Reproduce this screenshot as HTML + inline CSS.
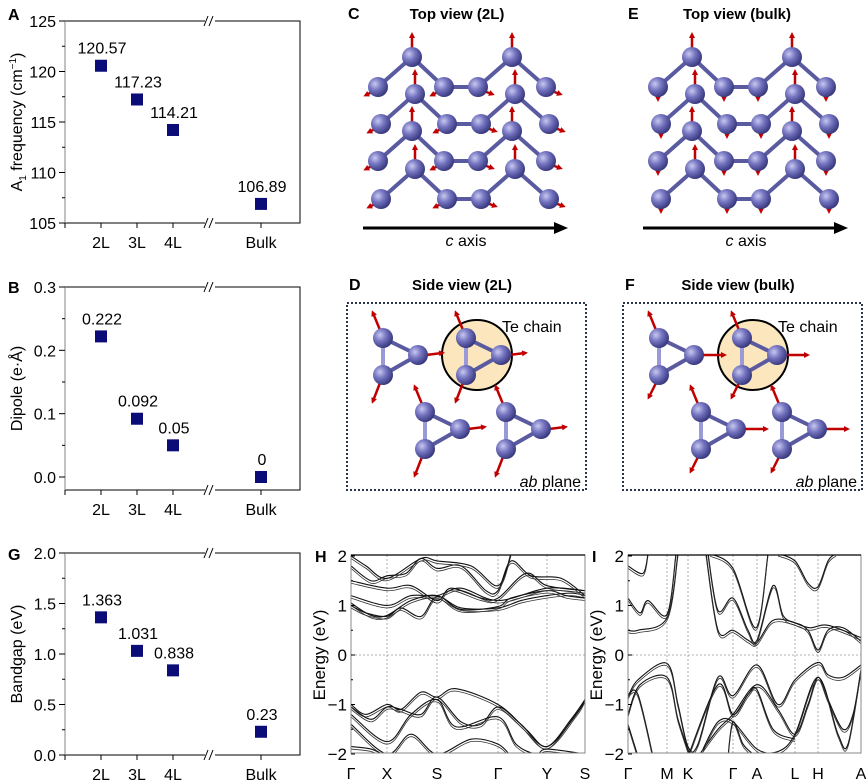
<!DOCTYPE html>
<html><head><meta charset="utf-8">
<style>
html,body{margin:0;padding:0;background:#fff;}
svg{display:block;font-family:"Liberation Sans",Arial,sans-serif;}
</style></head>
<body>
<svg id="fig" width="867" height="783" viewBox="0 0 867 783" xmlns="http://www.w3.org/2000/svg">
<defs>
<radialGradient id="atomg" cx="0.35" cy="0.35" r="0.7">
<stop offset="0" stop-color="#c8c8f0"/><stop offset="0.45" stop-color="#7474c0"/><stop offset="1" stop-color="#34347a"/>
</radialGradient>
<marker id="arr" markerWidth="6" markerHeight="6" refX="3" refY="3" orient="auto" markerUnits="userSpaceOnUse"><path d="M0,0 L6,3 L0,6 z" fill="#c00000"/></marker>
<marker id="bigarr" markerWidth="14" markerHeight="12" refX="2" refY="6" orient="auto" markerUnits="userSpaceOnUse"><path d="M0,0 L14,6 L0,12 z" fill="#000"/></marker>
</defs>
<g id="scatter"></g>
<g id="structs"></g>
<g id="bands"></g>
</svg>
<script>
const NS="http://www.w3.org/2000/svg";
function mk(tag,attrs,parent,txt){const e=document.createElementNS(NS,tag);for(const k in attrs)e.setAttribute(k,attrs[k]);if(txt!==undefined)e.textContent=txt;parent.appendChild(e);return e;}

/* ---------- scatter data ---------- */
const categories=["2L","3L","4L","Bulk"];
const freqValues=[120.57,117.23,114.21,106.89];
const freqLabels=["120.57","117.23","114.21","106.89"];
const dipoleValues=[0.222,0.092,0.05,0];
const dipoleLabels=["0.222","0.092","0.05","0"];
const gapValues=[1.363,1.031,0.838,0.23];
const gapLabels=["1.363","1.031","0.838","0.23"];
const freqTicks=[105,110,115,120,125];
const freqTickLabels=["105","110","115","120","125"];
const dipoleTicks=[0,0.1,0.2,0.3];
const dipoleTickLabels=["0.0","0.1","0.2","0.3"];
const gapTicks=[0,0.5,1,1.5,2];
const gapTickLabels=["0.0","0.5","1.0","1.5","2.0"];

function xCat(i){return i<3?101+36*i:261;}
function scatterPanel(cfg){
  const root=document.getElementById('scatter');
  const g=mk('g',{},root);
  
  
  const L=65,R=300,T=cfg.top,B=cfg.bottom;
  const y=v=>cfg.y0+(v-cfg.vmin)/(cfg.vmax-cfg.vmin)*(cfg.y1-cfg.y0);
  const box=mk('path',{d:`M${L},${T}H205M215,${T}H${R}V${B}H215M205,${B}H${L}V${T}`,fill:'none',stroke:'#000','stroke-width':1},g);
  
  mk('path',{d:`M${L},${T}V${B}`,stroke:'#999','stroke-width':1.2},g);
  [T,B].forEach(yy=>{const b=mk('path',{d:`M204,${yy+5}L208,${yy-5}M209,${yy+5}L213,${yy-5}`,stroke:'#000','stroke-width':1,fill:'none'},g);
    });
  cfg.ticks.forEach((t,i)=>{const yy=y(t);
    mk('line',{x1:L-6,x2:L,y1:yy,y2:yy,stroke:'#000'},g);
    const tl=mk('text',{x:L-9,y:yy+6,'text-anchor':'end','font-size':16},g,cfg.tickLabels[i]);
    
    if(i<cfg.ticks.length-1){const ym=y((t+cfg.ticks[i+1])/2);mk('line',{x1:L-3,x2:L,y1:ym,y2:ym,stroke:'#000'},g);}
  });
  categories.forEach((c,i)=>{const xx=xCat(i);
    mk('line',{x1:xx,x2:xx,y1:B,y2:B+5,stroke:'#000'},g);
    const tl=mk('text',{x:xx,y:B+25,'text-anchor':'middle','font-size':16},g,c);
    
  });
  mk('line',{x1:L,x2:L,y1:B,y2:B+5,stroke:'#000'},g);
  cfg.values.forEach((v,i)=>{const xx=xCat(i),yy=y(v);
    const r=mk('rect',{x:xx-6,y:yy-6,width:12,height:12,fill:'#0c0c78'},g);
    
    const tl=mk('text',{x:xx+1,y:yy-12,'text-anchor':'middle','font-size':16},g,cfg.labels[i]);
    
  });
  const yt=mk('text',{transform:`translate(${cfg.axisX},${(T+B)/2}) rotate(-90)`,'text-anchor':'middle','font-size':16},g);
  
  yt.innerHTML=cfg.title;
  const pl=mk('text',{x:8,y:cfg.letterY,'font-size':16,'font-weight':'bold'},g,cfg.letter);
  
}
scatterPanel({name:'panel-a-frequency',top:21,bottom:223,y0:223,y1:21,vmin:105,vmax:125,ticks:freqTicks,tickLabels:freqTickLabels,values:freqValues,labels:freqLabels,
  title:'A<tspan font-size="10" dy="4">1</tspan><tspan dy="-4"> frequency (cm</tspan><tspan font-size="10" dy="-6">−1</tspan><tspan dy="6">)</tspan>',axisX:22,letter:'A',letterY:20});
scatterPanel({name:'panel-b-dipole',top:287,bottom:490,y0:477,y1:287,vmin:0,vmax:0.3,ticks:dipoleTicks,tickLabels:dipoleTickLabels,values:dipoleValues,labels:dipoleLabels,
  title:'Dipole (e·Å)',axisX:22,letter:'B',letterY:293});
scatterPanel({name:'panel-g-bandgap',top:553,bottom:755,y0:755,y1:553,vmin:0,vmax:2,ticks:gapTicks,tickLabels:gapTickLabels,values:gapValues,labels:gapLabels,
  title:'Bandgap (eV)',axisX:22,letter:'G',letterY:560});

/* ---------- structures ---------- */
const S=document.getElementById('structs');
function atom(g,x,y,r){mk('circle',{cx:x,cy:y,r:r||10,fill:'url(#atomg)'},g);}
function bond(g,x1,y1,x2,y2){mk('line',{x1,y1,x2,y2,stroke:'#5a5aa0','stroke-width':4,'stroke-linecap':'round'},g);}
function arrow(g,x1,y1,x2,y2){mk('line',{x1,y1,x2,y2,stroke:'#c00000','stroke-width':2.5,'marker-end':'url(#arr)'},g);}
function topView(ox,bulk,name,letter,title){
  const g=mk('g',{},S);
  const t=mk('text',{x:ox+79,y:19,'text-anchor':'middle','font-size':15,'font-weight':'bold'},g,title);
  
  const l=mk('text',{x:ox-30,y:19,'font-size':16,'font-weight':'bold'},g,letter);
  
  const pts=[[0,30],[34,0],[66,30],[100,30],[134,0],[168,30]];
  [87,124,161,199].forEach((ly,ri)=>{
    const dx=(ri%2)?3:0;
    const P=pts.map(p=>[ox+p[0]+dx,ly-30+p[1]]);
    for(let i=0;i<5;i++)bond(g,P[i][0],P[i][1],P[i+1][0],P[i+1][1]);
    [1,4].forEach(i=>arrow(g,P[i][0],P[i][1]-8,P[i][0],P[i][1]-22));
    P.forEach((p,i)=>{ if(i!==1&&i!==4){ if(bulk) arrow(g,p[0],p[1]+4,p[0],p[1]+12);
      else arrow(g,p[0],p[1]+2,p[0]+(i<3?-12:14),p[1]+(i<3?8:7)); } });
    P.forEach(p=>atom(g,p[0],p[1]));
  });
  const ax=mk('line',{x1:ox-15,y1:228,x2:ox+178,y2:228,stroke:'#000','stroke-width':3,'marker-end':'url(#bigarr)'},g);
  
  const at=mk('text',{x:ox+88,y:246,'text-anchor':'middle','font-size':16},g);
  
  at.innerHTML='<tspan font-style="italic">c</tspan> axis';
}
topView(378,false,'panel-c-top-view-2l','C','Top view (2L)');
topView(658,true,'panel-e-top-view-bulk','E','Top view (bulk)');

function sideView(ox,bulk,name,letter,title){
  const g=mk('g',{},S);
  const t=mk('text',{x:ox+115,y:290,'text-anchor':'middle','font-size':15,'font-weight':'bold'},g,title);
  
  const l=mk('text',{x:ox+2,y:290,'font-size':16,'font-weight':'bold'},g,letter);
  
  const b=mk('rect',{x:ox,y:303,width:239,height:187,fill:'none',stroke:'#2a3550','stroke-width':2,'stroke-dasharray':'2,2'},g);
  
  const c=mk('circle',{cx:ox+130,cy:355,r:35,fill:'#fbe6bd',stroke:'#000','stroke-width':2},g);
  
  const tc=mk('text',{x:ox+155,y:332,'font-size':16},g,'Te chain');
  
  const ab=mk('text',{x:ox+234,y:487,'text-anchor':'end','font-size':16},g);
  
  ab.innerHTML='<tspan font-style="italic">ab</tspan> plane';
  [[ox+36,338],[ox+119,338],[ox+78,412],[ox+159,412]].forEach(o=>{
    const A=[o[0],o[1]],Bp=[o[0]+35,o[1]+17],C=[o[0],o[1]+37];
    bond(g,A[0],A[1],Bp[0],Bp[1]);bond(g,Bp[0],Bp[1],C[0],C[1]);
    mk('line',{x1:A[0],y1:A[1],x2:C[0],y2:C[1],stroke:'#9a9ad8','stroke-width':4},g);
    arrow(g,A[0]-3,A[1]-8,A[0]-10,A[1]-25);
    arrow(g,Bp[0]+8,Bp[1],Bp[0]+(bulk?30:24),Bp[1]-(bulk?0:2));
    arrow(g,C[0]-3,C[1]+8,C[0]-10,C[1]+(bulk?22:26));
    atom(g,A[0],A[1]);atom(g,Bp[0],Bp[1]);atom(g,C[0],C[1]);
  });
}
sideView(347,false,'panel-d-side-view-2l','D','Side view (2L)');
sideView(623,true,'panel-f-side-view-bulk','F','Side view (bulk)');

/* ---------- band data ---------- */
const hKpts=[0,36,86,147,196,234];
const hKlabels=["Γ","X","S","Γ","Y","S"];
const hBands=[
[[0,1.0],[15,0.85],[36,0.78],[50,0.95],[70,0.78],[86,1.18],[110,0.95],[147,0.95],[170,1.1],[196,1.2],[220,1.25],[234,1.2]],
[[0,1.05],[20,0.8],[36,0.8],[60,1.1],[86,1.2],[110,0.92],[147,0.98],[160,1.15],[196,1.3],[215,1.2],[234,1.15]],
[[0,1.2],[36,1.0],[60,1.2],[86,1.2],[110,1.35],[147,1.1],[196,1.35],[234,1.3]],
[[0,1.5],[36,1.35],[60,1.4],[86,1.1],[100,1.35],[130,1.15],[147,1.15],[175,1.65],[196,1.4],[234,1.3]],
[[0,1.8],[20,1.5],[36,1.6],[55,1.65],[70,1.95],[86,1.75],[110,1.8],[135,1.3],[147,1.3],[160,1.9],[180,1.6],[210,1.55],[234,1.2]],
[[0,2.0],[15,1.8],[36,1.55],[70,1.95],[86,1.9],[120,1.8],[147,1.4],[160,2.05]],
[[0,-1.0],[15,-1.2],[36,-1.0],[50,-1.1],[70,-0.75],[86,-0.85],[105,-0.68],[147,-1.0],[175,-1.5],[196,-1.85],[220,-1.3],[234,-0.9]],
[[0,-1.05],[20,-1.3],[36,-1.05],[50,-1.1],[70,-1.2],[86,-0.85],[110,-1.35],[130,-1.4],[147,-1.05],[170,-1.4],[196,-1.85],[225,-1.2],[234,-0.9]],
[[0,-1.2],[36,-1.75],[60,-1.2],[86,-0.9],[105,-1.45],[147,-1.25],[165,-1.8],[185,-2.0],[196,-1.9],[234,-2.0]],
[[0,-1.4],[36,-2.0],[60,-1.6],[86,-2.0],[120,-1.7],[147,-1.8],[160,-2.05]],
[[0,-1.85],[20,-1.9],[36,-2.05]]
];
const iKpts=[0,39,60,105,129,167,190,233];
const iKlabels=["Γ","M","K","Γ","A","L","H","A"];
const iBands=[
[[0,0.5],[10,0.5],[39,0.75],[50,2.05]],
[[0,1.15],[12,0.85],[20,1.1],[39,0.82],[48,2.05]],
[[0,1.8],[15,1.65],[20,2.05]],
[[78,2.05],[90,0.5],[105,0.5],[120,0.3],[129,0.25],[145,0.7],[167,0.65],[180,0.5],[190,0.1],[200,0.5],[215,0.55],[233,0.28]],
[[80,2.05],[90,0.9],[105,1.15],[120,0.5],[129,0.3],[145,1.4],[155,0.8],[167,0.65],[182,0.55],[200,0.6],[233,0.35]],
[[82,2.05],[105,1.75],[128,0.55],[140,2.05]],
[[150,2.05],[167,1.9],[180,1.45],[190,1.38],[200,1.9],[208,2.05]],
[[0,-0.85],[10,-0.5],[39,-0.17],[50,-1.0],[60,-1.85],[70,-1.8],[90,-0.45],[105,-0.82],[129,-0.2],[150,-1.0],[167,-0.5],[190,-0.15],[200,-0.4],[215,-0.45],[233,-0.2]],
[[0,-1.2],[12,-0.6],[39,-0.45],[50,-1.3],[62,-2.05]],
[[0,-1.4],[10,-2.05]],
[[0,-0.8],[10,-0.8],[25,-2.05]],
[[70,-2.05],[90,-1.5],[105,-1.2],[129,-0.6],[150,-1.1],[167,-1.6],[180,-1.0],[190,-0.45],[200,-0.9],[215,-1.5],[225,-1.2],[233,-0.3]],
[[75,-1.9],[90,-1.35],[105,-1.35],[129,-1.9],[150,-1.95],[167,-1.6],[190,-0.45],[210,-1.6],[220,-1.8],[233,-0.3]],
[[60,-2.05],[90,-0.6],[105,-1.2],[120,-0.8],[129,-0.7],[145,-1.5],[167,-1.7]],
[[100,-2.05],[105,-1.35],[115,-1.8],[125,-2.0]]
];
const eTicks=[-2,-1,0,1,2];
const eTickLabels=["−2","−1","0","1","2"];

function smooth(P){let d=`M${P[0][0]},${P[0][1]}`;
  for(let i=0;i<P.length-1;i++){const p0=P[i-1]||P[i],p1=P[i],p2=P[i+1],p3=P[i+2]||p2;
    d+=`C${p1[0]+(p2[0]-p0[0])/6},${p1[1]+(p2[1]-p0[1])/6} ${p2[0]-(p3[0]-p1[0])/6},${p2[1]-(p3[1]-p1[1])/6} ${p2[0]},${p2[1]}`;}
  return d;}
function bandPanel(cfg){
  const root=document.getElementById('bands');
  const g=mk('g',{},root);
  const L=cfg.L,R=cfg.R,T=555,B=753;
  const kmax=cfg.kpts[cfg.kpts.length-1];
  const x=k=>L+k/kmax*(R-L);
  const y=e=>655-e*49.5;
  const cid='clip'+cfg.letter;
  const cp=mk('clipPath',{id:cid},g);mk('rect',{x:L,y:T,width:R-L,height:B-T},cp);
  cfg.kpts.forEach((k,i)=>{ if(i>0&&i<cfg.kpts.length-1) mk('line',{x1:x(k),x2:x(k),y1:T,y2:B,stroke:'#999','stroke-width':0.8,'stroke-dasharray':'2,2'},g);
    const tl=mk('text',{x:x(k),y:779,'text-anchor':'middle','font-size':16},g,cfg.klabels[i]);
    });
  mk('line',{x1:L,x2:R,y1:y(0),y2:y(0),stroke:'#999','stroke-width':0.8,'stroke-dasharray':'2,2'},g);
  const bg=mk('g',{'clip-path':`url(#${cid})`},g);
  cfg.bands.forEach((b,i)=>{
    const P=b.map(p=>[x(p[0]),y(p[1])]);
    const pa=mk('path',{d:smooth(P),fill:'none',stroke:'#111','stroke-width':1.1},bg);
    
    const pb=mk('path',{d:smooth(P.map(p=>[p[0],p[1]+2.5])),fill:'none',stroke:'#333','stroke-width':0.8},bg);
    
  });
  const fr=mk('rect',{x:L,y:T,width:R-L,height:B-T,fill:'none',stroke:'#888','stroke-width':1},g);
  
  mk('line',{x1:L,x2:R,y1:T,y2:T,stroke:'#000','stroke-width':1.3},g);
  eTicks.forEach((e,i)=>{const yy=y(e);
    mk('line',{x1:L,x2:L+4,y1:yy,y2:yy,stroke:'#000'},g);
    if(i<eTicks.length-1) mk('line',{x1:L,x2:L+2,y1:y(e+0.5),y2:y(e+0.5),stroke:'#000'},g);
    const tl=mk('text',{x:L-4,y:yy+6,'text-anchor':'end','font-size':17},g,eTickLabels[i]);
    });
  const yt=mk('text',{transform:`translate(${L-26},655) rotate(-90)`,'text-anchor':'middle','font-size':17},g,'Energy (eV)');
  
  const pl=mk('text',{x:L-36,y:562,'font-size':16,'font-weight':'bold'},g,cfg.letter);
  
}
bandPanel({name:'panel-h-bands-2l',letter:'H',L:351,R:585,kpts:hKpts,klabels:hKlabels,bands:hBands});
bandPanel({name:'panel-i-bands-bulk',letter:'I',L:628,R:861,kpts:iKpts,klabels:iKlabels,bands:iBands});
</script>
</body></html>
